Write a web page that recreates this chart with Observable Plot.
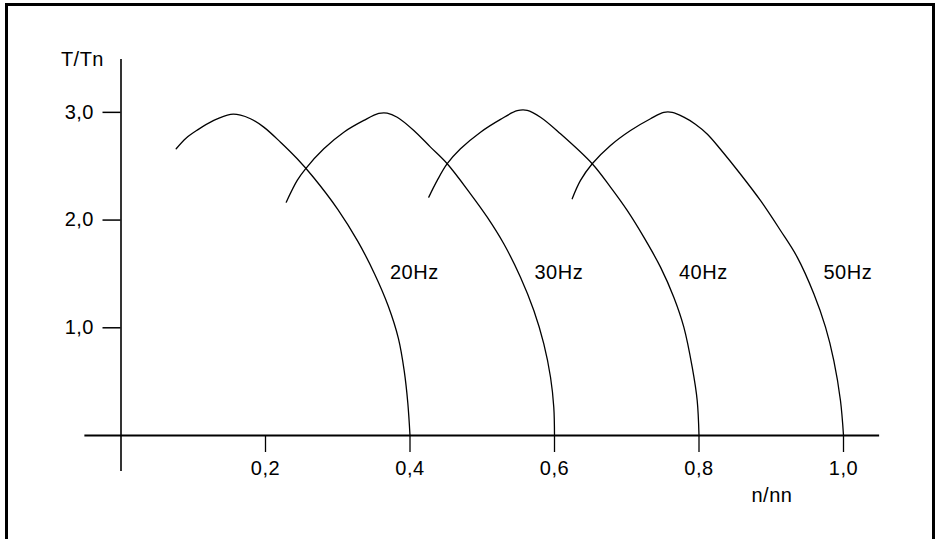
<!DOCTYPE html>
<html><head><meta charset="utf-8">
<script src="https://cdn.jsdelivr.net/npm/d3@7"></script>
<script src="https://cdn.jsdelivr.net/npm/@observablehq/plot@0.6"></script>
<style>
html,body{margin:0;padding:0;background:#fff;}
#wrap{position:relative;width:936px;height:539px;overflow:hidden;}
#border{position:absolute;left:5px;top:3px;width:930px;height:600px;box-sizing:border-box;border:3px solid #000;border-bottom:none;pointer-events:none;}
svg{display:block;}
svg text{letter-spacing:0.5px;}
</style></head><body><div id="wrap"><div id="chart"></div><div id="border"></div></div>
<script>
const seriesNames = ["20Hz", "30Hz", "40Hz", "50Hz"];
const syncSpeed = [0.4, 0.6, 0.8, 1.0];
const xTicks = [0.2, 0.4, 0.6, 0.8, 1.0];
const yTicks = [1, 2, 3];

const speed20  = [0.0764,0.0900,0.1055,0.1284,0.1516,0.1654,0.1792,0.1976,0.2208,0.2439,0.266,0.300,0.328,0.351,0.370,0.384,0.392,0.397,0.400];
const torque20 = [2.662,2.760,2.835,2.925,2.981,2.975,2.941,2.863,2.723,2.569,2.400,2.100,1.800,1.500,1.200,0.900,0.600,0.300,0];

const speed30  = [0.2287,0.2439,0.2554,0.2807,0.3084,0.3361,0.3568,0.3684,0.3823,0.4053,0.4284,0.4515,0.4837,0.5069,0.5298,0.5529,0.5714,0.5852,0.5945,0.5990,0.6000];
const torque30 = [2.166,2.368,2.476,2.662,2.816,2.925,2.990,2.993,2.955,2.832,2.677,2.523,2.244,2.027,1.780,1.470,1.161,0.851,0.541,0.263,0];

const speed40  = [0.4260,0.4377,0.4515,0.4699,0.4976,0.5253,0.5484,0.5622,0.5806,0.6083,0.6522,0.6775,0.7006,0.7236,0.7467,0.7651,0.7790,0.7906,0.7975,0.8000];
const torque40 = [2.213,2.368,2.523,2.662,2.816,2.935,3.015,3.018,2.955,2.801,2.523,2.305,2.089,1.841,1.563,1.284,1.006,0.634,0.325,0];

const speed50  = [0.6245,0.6360,0.6522,0.6775,0.7052,0.7329,0.7513,0.7629,0.7790,0.7950,0.8120,0.8300,0.8570,0.8850,0.9128,0.9359,0.9589,0.9751,0.9866,0.9958,1.0000];
const torque50 = [2.198,2.368,2.523,2.693,2.832,2.941,3.000,3.000,2.955,2.890,2.795,2.655,2.430,2.182,1.903,1.656,1.316,1.006,0.696,0.325,0];

const speeds = [speed20, speed30, speed40, speed50];
const torques = [torque20, torque30, torque40, torque50];

const rows = [];
seriesNames.forEach((s, i) => speeds[i].forEach((n, j) => rows.push({series: s, n, t: torques[i][j]})));
const labelRows = seriesNames.map((s, i) => ({series: s, sync: syncSpeed[i]}));

const fmt = d => d.toFixed(1).replace(".", ",");

const chart = Plot.plot({
  width: 936, height: 539,
  marginLeft: 120.5, marginRight: 93, marginTop: 58, marginBottom: 104,
  style: {fontFamily: "'Liberation Sans', Arial, sans-serif", fontSize: "20px", color: "#000", background: "#fff"},
  x: {domain: [0, 1]},
  y: {domain: [0, 3.5]},
  marks: [
    Plot.ruleY([0], {x1: -0.05, x2: 1.05, strokeWidth: 2, stroke: "#000"}),
    Plot.ruleX([0], {y1: -0.335, y2: 3.49, strokeWidth: 1.6, stroke: "#000"}),
    Plot.axisX(xTicks, {tickSize: 17, tickPadding: 8, tickFormat: fmt, label: null, fontSize: 20, strokeWidth: 1.3}),
    Plot.axisY(yTicks, {tickSize: 18, tickPadding: 9, tickFormat: fmt, label: null, fontSize: 20, strokeWidth: 1.5}),
    Plot.line(rows, {x: "n", y: "t", z: "series", curve: "catmull-rom", stroke: "#000", strokeWidth: 1.3}),
    Plot.text(labelRows, {x: "sync", y: () => 1.51, text: "series", textAnchor: "start", dx: -20, fontSize: 20}),
    Plot.text(["T/Tn"], {frameAnchor: "top-left", dx: -17, dy: 7, textAnchor: "end", lineAnchor: "bottom", fontSize: 20}),
    Plot.text(["n/nn"], {frameAnchor: "bottom-right", dx: -92, dy: 66, textAnchor: "start", lineAnchor: "bottom", fontSize: 20})
  ]
});
document.getElementById("chart").appendChild(chart);
</script></body></html>
